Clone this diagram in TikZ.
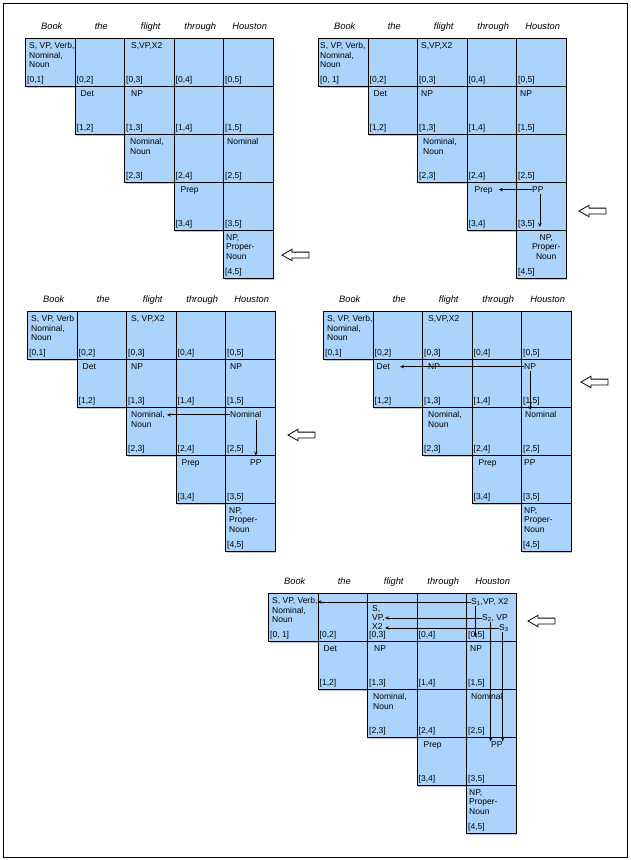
\documentclass[tikz,border=0pt]{standalone}
\usepackage{fontspec}
\setmainfont{Liberation Sans}
\usetikzlibrary{arrows.meta,calc,shadows}

\definecolor{cellblue}{RGB}{170,212,252}

\tikzset{
  x=1pt, y=-1pt,
  cell/.style={draw, line width=0.9pt, fill=cellblue, minimum width=49.5pt, minimum height=48pt,
               inner sep=0pt, anchor=north west,
               drop shadow={shadow xshift=1.2pt, shadow yshift=-1.2pt, fill=black!45}},
  txt/.style={inner sep=0pt, anchor=north west, align=left, font=\fontsize{8.5}{9.3}\selectfont},
  idx/.style={inner sep=0pt, anchor=base west, xshift=2pt, yshift=4.5pt, font=\fontsize{8.5}{9.3}\selectfont},
  word/.style={inner sep=0pt, anchor=base, font=\fontsize{9.3}{11}\selectfont\itshape},
  ar/.style={line width=0.7pt, -{Stealth[length=4pt, width=3.4pt]}},
  backarrow/.pic={\draw[line width=0.8pt, fill=white] (0,0) -- (10,-5.7) -- (10,-2.9) -- (27,-2.9)
                  -- (27,2.9) -- (10,2.9) -- (10,5.7) -- cycle;},
}

% chart: prefix, x, y, space in [0,1]
\newcommand\cykgrid[4]{%
  \foreach \i in {0,...,4}{
    \pgfmathtruncatemacro\jmin{\i+1}
    \foreach \j in {\jmin,...,5}{
      \node[cell] (#1\i\j) at ({#2+(\j-1)*49.5},{#3+\i*48}) {};
    }
  }
  \foreach \i in {0,...,4}{
    \pgfmathtruncatemacro\jmin{\i+1}
    \foreach \j in {\jmin,...,5}{
      \node[idx] at (#1\i\j.south west) {\ifnum\i\j=1 [0,#41]\else[\i,\j]\fi};
    }
  }
  \foreach \w [count=\k] in {Book,the,flight,through,Houston}
    \node[word] (#1w\k) at ({#2+(\k-0.5)*49.5+2},{#3-9}) {\w};
}
% cell entry: cell, x offset, text
\newcommand\cnt[3]{\node[txt] (#1t) at ([xshift=#2pt,yshift=-4.5pt]#1.north west) {#3};}

\begin{document}
\begin{tikzpicture}
\useasboundingbox (0,0) rectangle (630,860);
\draw[line width=0.8pt] (3,3) rectangle (627,857);

%% ---------- chart A ----------
\cykgrid{A}{25}{38}{}
\cnt{A01}{4}{S, VP, Verb,\\Nominal,\\Noun}
\cnt{A03}{7}{S,VP,X2}
\cnt{A12}{6}{Det}
\cnt{A13}{7}{NP}
\cnt{A23}{6}{Nominal,\\Noun}
\cnt{A25}{4}{Nominal}
\cnt{A34}{7}{Prep}
\cnt{A45}{3}{NP,\\Proper-\\Noun}
\pic at (282,255) {backarrow};

%% ---------- chart B ----------
\cykgrid{B}{318}{38}{~}
\cnt{B01}{2}{S, VP, Verb,\\Nominal,\\Noun}
\cnt{B03}{4}{S,VP,X2}
\cnt{B12}{6}{Det}
\cnt{B13}{4}{NP}
\cnt{B15}{4}{NP}
\cnt{B23}{6}{Nominal,\\Noun}
\cnt{B34}{8}{Prep}
\cnt{B35}{16}{PP}
\node[txt, align=center, anchor=north] (B45t) at ([xshift=5pt,yshift=-4.5pt]B45.north) {NP,\\Proper-\\Noun};
\draw[ar, shorten >=6pt] (B35t.west) -- (B35t.west -| B34t.east);
\coordinate (B35d) at ([xshift=2pt]B35t.south);
\draw[ar, shorten <=1pt, shorten >=3pt] (B35d) -- (B35d |- B45.north);
\pic at (579,211) {backarrow};

%% ---------- chart C ----------
\cykgrid{C}{27}{311}{}
\cnt{C01}{4}{S, VP, Verb\\Nominal,\\Noun}
\cnt{C03}{5}{S, VP,X2}
\cnt{C12}{6}{Det}
\cnt{C13}{5}{NP}
\cnt{C15}{5}{NP}
\cnt{C23}{5}{Nominal,\\Noun}
\cnt{C25}{5}{Nominal}
\cnt{C34}{6}{Prep}
\cnt{C35}{25}{PP}
\cnt{C45}{4}{NP,\\Proper-\\Noun}
\draw[ar, shorten >=2pt] (C25t.west) -- (C25t.west -| C23t.east);
\draw[ar, shorten <=2pt, shorten >=4pt] (C35t.north |- C25t.south) -- (C35t.north);
\pic at (288,435) {backarrow};

%% ---------- chart D ----------
\cykgrid{D}{323}{311}{}
\cnt{D01}{4}{S, VP, Verb,\\Nominal,\\Noun}
\cnt{D03}{6}{S,VP,X2}
\cnt{D12}{4}{Det}
\cnt{D13}{6}{NP}
\cnt{D15}{3}{NP}
\cnt{D23}{6}{Nominal,\\Noun}
\cnt{D25}{4}{Nominal}
\cnt{D34}{7}{Prep}
\cnt{D35}{3}{PP}
\cnt{D45}{3}{NP,\\Proper-\\Noun}
\draw[ar, shorten >=10pt] (D15t.west) -- (D15t.west -| D12t.east);
\draw[ar, shorten <=1pt, shorten >=1.5pt] (D15t.south) -- (D15t.south |- D25t.north);
\pic at (581,382) {backarrow};

%% ---------- chart E ----------
\cykgrid{E}{268}{593}{~}
\cnt{E01}{4}{S, VP, Verb,\\Nominal,\\Noun}
\node[txt] (E03t) at ([xshift=5pt,yshift=-12pt]E03.north west) {S,\\VP,\\X2};
\cnt{E12}{6}{Det}
\cnt{E13}{7}{NP}
\cnt{E15}{4}{NP}
\cnt{E23}{6}{Nominal,\\Noun}
\cnt{E25}{5}{Nominal}
\cnt{E34}{7}{Prep}
\cnt{E35}{25}{PP}
\cnt{E45}{3}{NP,\\Proper-\\Noun}
\node[txt, anchor=west] (Es1) at ([xshift=5pt,yshift=-9pt]E05.north west) {S\textsubscript{1},VP, X2};
\node[txt, anchor=west] (Es2) at ([xshift=16pt,yshift=-25pt]E05.north west) {S\textsubscript{2}, VP};
\node[txt, anchor=west] (Es3) at ([xshift=33pt,yshift=-35pt]E05.north west) {S\textsubscript{3}};
\draw[ar] (Es1.west) -- (Es1.west -| E01t.east);
\draw[ar] (Es2.west) -- (Es2.west -| E03t.east);
\draw[ar] (Es3.west) -- (Es3.west -| E03t.east);
\coordinate (Es1d) at ([xshift=4.5pt]Es1.south west);
\coordinate (Es2d) at ([xshift=8.7pt]Es2.south west);
\coordinate (Es3d) at ([xshift=3.7pt]Es3.south west);
\draw[ar, shorten >=4pt] (Es1d) -- (Es1d |- E15.north);
\draw[ar] (Es2d) -- (Es2d |- E35t.north);
\draw[ar] (Es3d) -- (Es3d |- E35t.north);
\pic at (528,621) {backarrow};

\end{tikzpicture}
\end{document}
